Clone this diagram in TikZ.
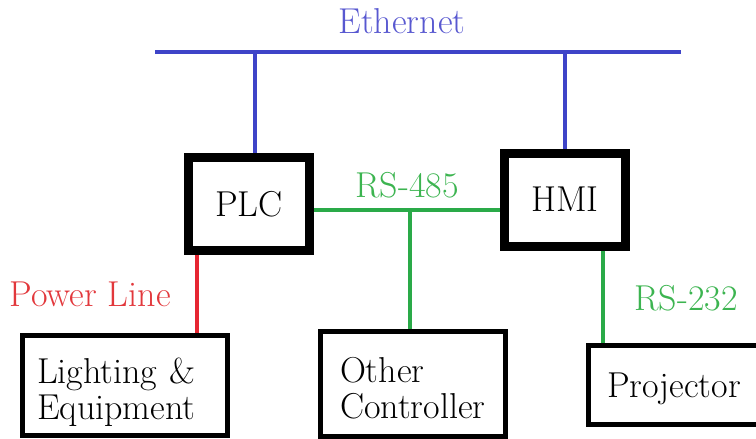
\documentclass[tikz,border=0pt]{standalone}
\usepackage{fontspec}
\usepackage{xcolor}
\usepackage{tikz}
\usetikzlibrary{positioning}

\definecolor{ethblue}{RGB}{62,68,200}
\definecolor{ethtext}{RGB}{88,88,208}
\definecolor{rsgreen}{RGB}{42,170,72}
\definecolor{rstext}{RGB}{60,180,80}
\definecolor{pwrred}{RGB}{230,38,50}
\definecolor{pwrtext}{RGB}{226,56,60}

\begin{document}
\begin{tikzpicture}[x=1pt,y=-1pt,
  main node/.style={draw,line width=9pt,minimum width=121pt,minimum height=93pt,inner sep=0pt,font=\fontsize{36}{36}\selectfont},
  dev node/.style={draw,line width=5pt,inner sep=0pt,align=left,font=\fontsize{36}{36}\selectfont},
  two rows/.style={text height=25pt,text depth=29pt},
  bus label/.style={font=\fontsize{36}{36}\selectfont,anchor=base},
  eth/.style={ethblue,line width=4.5pt},
  rs/.style={rsgreen,line width=4.5pt},
  pwr/.style={pwrred,line width=4.5pt}]

  \useasboundingbox (0,0) rectangle (756,439);

  \node[main node] (PLC) at (249,204) {PLC};
  \node[main node] (HMI) at (565,199.5) {HMI};
  \node[dev node,two rows,minimum width=205pt,minimum height=100pt,text width=176pt] (Light) at (125,385.5) {Lighting \&\\Equipment};
  \node[dev node,two rows,minimum width=185pt,minimum height=105pt,text width=146pt] (Other) at (413,384) {Other\\Controller};
  \node[dev node,minimum width=171pt,minimum height=79pt,text depth=0pt] (Proj) at (674,385) {Projector};

  \coordinate (eth west) at (155,52);
  \coordinate (eth east) at (681,52);
  \coordinate (j485) at (410,210);

  % ethernet bus and drops
  \draw[eth] (eth west) -- (eth east);
  \draw[eth] ([xshift=6pt]PLC.north) -- ([xshift=6pt]PLC.north |- eth west);
  \draw[eth] (HMI.north) -- (HMI.north |- eth west);

  % serial links
  \draw[rs] (PLC.east |- j485) -- (HMI.west |- j485);
  \draw[rs] (j485) -- (j485 |- Other.north);
  \draw[rs] ([xshift=38pt]HMI.south) -- ([xshift=38pt]HMI.south |- Proj.north);
  \draw[pwr] ([xshift=-52pt]PLC.south) -- ([xshift=-52pt]PLC.south |- Light.north);

  \node[bus label,ethtext] (ethname) at (402,33) {Ethernet};
  \node[bus label,rstext] (rs485) at (407,197) {RS-485};
  \node[bus label,pwrtext] (pwrname) at (90,306) {Power Line};
  \node[bus label,rstext] (rs232) at (686,310) {RS-232};
\end{tikzpicture}
\end{document}
